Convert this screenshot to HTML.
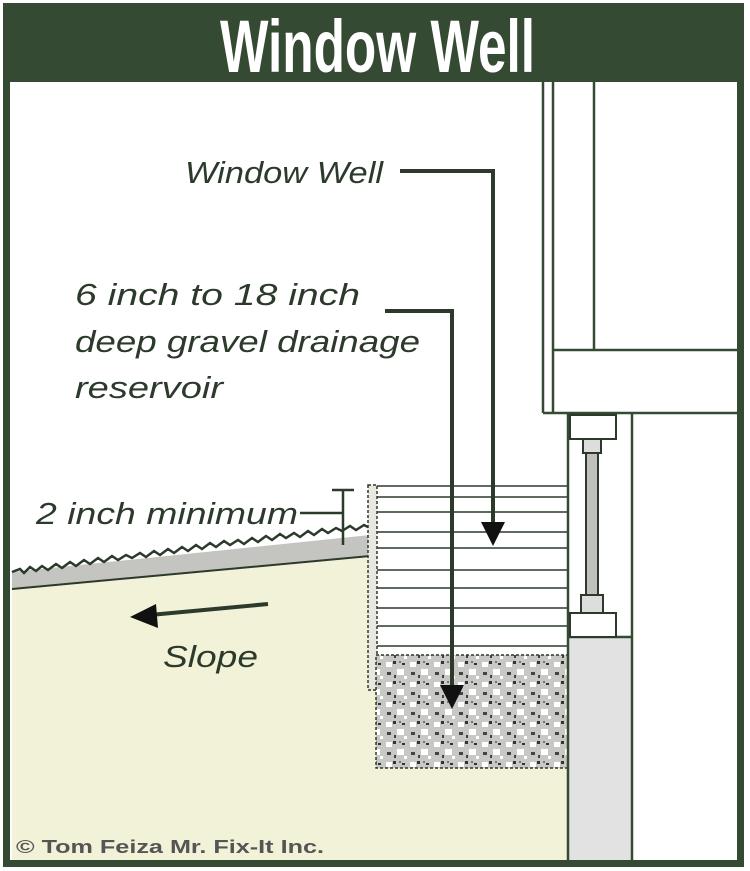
<!DOCTYPE html>
<html><head><meta charset="utf-8"><style>
html,body{margin:0;padding:0;background:#fff;}
svg{display:block;}
text{font-family:"Liberation Sans",sans-serif;fill:#2c3a2c;}
</style></head><body>
<svg width="750" height="871" viewBox="0 0 750 871" xmlns="http://www.w3.org/2000/svg">
<rect x="0" y="0" width="750" height="871" fill="#fff"/>
<!-- soil -->
<polygon points="12,585 370,555 370,690 376,690 376,768 568,768 568,860 12,860" fill="#f2f2d8"/>
<!-- gray ground band -->
<polygon points="12,572 370,535 370,555 12,590" fill="#c4c4c0"/>
<line x1="12" y1="589" x2="370" y2="556" stroke="#2c3a2c" stroke-width="2"/>
<polyline points="12,572 20,569 24,573 30,567 36,571 42,566 48,570 56,564 62,568 70,562 76,566 84,560 90,564 98,558 104,562 112,556 118,560 126,555 132,558 140,553 146,557 154,551 160,555 168,549 174,553 182,547 188,551 196,545 202,549 210,543 216,547 224,541 230,545 238,540 244,544 252,538 258,542 266,536 272,540 280,534 286,538 294,533 300,537 308,531 314,535 322,529 328,533 336,528 342,531 350,526 356,530 364,525 370,528" fill="none" stroke="#2c3a2c" stroke-width="2.5"/>
<!-- window well wall (dashed) -->
<rect x="368" y="485" width="9" height="205" fill="#e8e8e0" stroke="#2c3a2c" stroke-width="1.5" stroke-dasharray="3,2"/>
<!-- well lines -->
<g stroke="#2c3a2c" stroke-width="1.5">
<line x1="377" y1="486" x2="568" y2="486"/>
<line x1="377" y1="497" x2="568" y2="497"/>
<line x1="377" y1="512" x2="568" y2="512"/>
<line x1="377" y1="532" x2="568" y2="532"/>
<line x1="377" y1="548" x2="568" y2="548"/>
<line x1="377" y1="570" x2="568" y2="570"/>
<line x1="377" y1="588" x2="568" y2="588"/>
<line x1="377" y1="608" x2="568" y2="608"/>
<line x1="377" y1="626" x2="568" y2="626"/>
<line x1="377" y1="646" x2="568" y2="646"/>
</g>
<!-- gravel -->
<defs><pattern id="gr" width="24" height="20" patternUnits="userSpaceOnUse">
<rect width="24" height="20" fill="#c8c8c4"/>
<rect x="2" y="2" width="6" height="5" fill="#fff"/><rect x="13" y="9" width="7" height="6" fill="#fff"/>
<rect x="9" y="1" width="3" height="3" fill="#333"/><rect x="3" y="12" width="4" height="3" fill="#444"/>
<rect x="18" y="3" width="3" height="2" fill="#333"/><rect x="10" y="15" width="2" height="3" fill="#444"/>
<rect x="20" y="16" width="3" height="3" fill="#fff"/><rect x="15" y="1" width="2" height="2" fill="#777"/></pattern></defs>
<rect x="376" y="655" width="192" height="113" fill="url(#gr)" stroke="#2c3a2c" stroke-width="1.5" stroke-dasharray="3,2"/>
<!-- foundation wall -->
<rect x="568" y="637" width="64" height="223" fill="#e2e2e2"/>
<g stroke="#354a33" stroke-width="2.5" fill="none">
<line x1="568" y1="413" x2="568" y2="860"/>
<line x1="632" y1="413" x2="632" y2="860"/>
<line x1="543" y1="82" x2="543" y2="413"/>
<line x1="553" y1="82" x2="553" y2="413"/>
<line x1="594" y1="82" x2="594" y2="350"/>
<line x1="553" y1="350" x2="738" y2="350"/>
<line x1="543" y1="413" x2="738" y2="413"/>
<line x1="568" y1="637" x2="632" y2="637"/>
</g>
<!-- sill / rod -->
<rect x="570" y="415" width="46" height="24" fill="#fff" stroke="#2c3a2c" stroke-width="2"/>
<rect x="583" y="439" width="18" height="14" fill="#ddd" stroke="#2c3a2c" stroke-width="2"/>
<rect x="586" y="453" width="12" height="142" fill="#c0c0bc" stroke="#2c3a2c" stroke-width="2"/>
<rect x="581" y="595" width="22" height="18" fill="#ddd" stroke="#2c3a2c" stroke-width="2"/>
<rect x="570" y="613" width="46" height="24" fill="#fff" stroke="#2c3a2c" stroke-width="2"/>
<!-- arrows -->
<g stroke="#2c3a2c" stroke-width="4" fill="none">
<polyline points="400,171 493,171 493,525"/>
<polyline points="385,311 452,311 452,690"/>
<line x1="268" y1="604" x2="150" y2="615"/>
<line x1="300" y1="513" x2="343" y2="513" stroke-width="2.5"/>
<line x1="343" y1="490" x2="343" y2="545" stroke-width="2.5"/>
<line x1="332" y1="490" x2="354" y2="490" stroke-width="2.5"/>
</g>
<polygon points="481,522 505,522 493,546" fill="#111"/>
<polygon points="440,685 464,685 452,709" fill="#111"/>
<polygon points="130,617 156,604 158,628" fill="#111"/>
<!-- frame -->
<rect x="3" y="3" width="741" height="79" fill="#354a33"/>
<rect x="6.5" y="6.5" width="734" height="857" fill="none" stroke="#354a33" stroke-width="7"/>
<text x="220" y="72" font-size="74" font-weight="bold" style="fill:#fff" textLength="315" lengthAdjust="spacingAndGlyphs">Window Well</text>
<!-- labels -->
<g font-style="italic" font-size="31">
<text x="185" y="183" textLength="198" lengthAdjust="spacingAndGlyphs">Window Well</text>
<text x="75" y="305" textLength="285" lengthAdjust="spacingAndGlyphs">6 inch to 18 inch</text>
<text x="75" y="352" textLength="345" lengthAdjust="spacingAndGlyphs">deep gravel drainage</text>
<text x="75" y="398" textLength="148" lengthAdjust="spacingAndGlyphs">reservoir</text>
<text x="36" y="524" textLength="262" lengthAdjust="spacingAndGlyphs">2 inch minimum</text>
<text x="163" y="667" textLength="95" lengthAdjust="spacingAndGlyphs">Slope</text>
</g>
<text x="16" y="853" font-size="18" font-weight="bold" style="fill:#555" textLength="308" lengthAdjust="spacingAndGlyphs">© Tom Feiza Mr. Fix-It Inc.</text>
</svg>
</body></html>
